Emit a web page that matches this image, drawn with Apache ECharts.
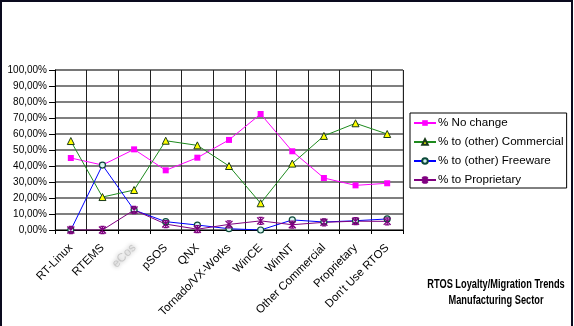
<!DOCTYPE html>
<html>
<head>
<meta charset="utf-8">
<script src="https://cdn.jsdelivr.net/npm/echarts@6/dist/echarts.min.js"></script>
<style>
  html, body { margin: 0; padding: 0; background: #fff; }
  #main { width: 574px; height: 326px; }
</style>
</head>
<body>
<div id="main"></div>
<script>
// categories (the 3rd one is blurred out in the source)
var categories = ['RT-Linux', 'RTEMS', 'eCos', 'pSOS', 'QNX', 'Tornado/VX-Works', 'WinCE', 'WinNT', 'Other Commercial', 'Proprietary', "Don't Use RTOS"];

// values in percent
var noChange    = [45, 40.6, 50.4, 37.3, 45.2, 56.3, 72.5, 49.2, 32.5, 27.9, 29.2];
var commercial  = [55.6, 20.6, 25, 55.8, 52.9, 40, 16.7, 41.5, 58.8, 66.7, 60];
var freeware    = [0, 40.6, 12.5, 5.2, 3.1, 0.8, 0, 6.3, 5, 5.8, 6.9];
var proprietary = [0, 0, 12.5, 3.7, 0.5, 3.5, 5.7, 3.3, 4.8, 5.5, 5.4];

var yTicks = [0, 10, 20, 30, 40, 50, 60, 70, 80, 90, 100];

var myChart = echarts.init(document.getElementById('main'));

function pct(v) {
    return v.toFixed(2).replace('.', ',') + '%';
}

var titleFont = 'bold 12px "Liberation Sans", Arial, sans-serif';

var option = {
    animation: false,
    textStyle: { fontFamily: 'Liberation Sans, Arial, sans-serif' },
    graphic: [
        {
            type: 'rect',
            shape: { x: 1, y: 1, width: 571, height: 340 },
            style: { fill: 'none', stroke: '#0a0a1e', lineWidth: 2 },
            silent: true
        },
        // title, squeezed a little like the original
        {
            type: 'text',
            x: 496, y: 285, scaleX: 0.77,
            style: { text: 'RTOS Loyalty/Migration Trends', font: titleFont, fill: '#000', align: 'center', verticalAlign: 'middle' }
        },
        {
            type: 'text',
            x: 496, y: 301, scaleX: 0.77,
            style: { text: 'Manufacturing Sector', font: titleFont, fill: '#000', align: 'center', verticalAlign: 'middle' }
        }
    ],
    legend: {
        orient: 'vertical',
        left: 410,
        top: 113,
        padding: [4, 3, 2, 3],
        itemGap: 7,
        itemWidth: 22,
        itemHeight: 7,
        borderColor: '#000',
        borderWidth: 1,
        textStyle: { fontSize: 11.6, color: '#000', padding: [0, 0, 0, -3] },
        data: ['% No change', '% to (other) Commercial', '% to (other) Freeware', '% to Proprietary']
    },
    grid: { left: 55, right: 171, top: 70, bottom: 96, show: true, borderColor: '#bbb', borderWidth: 1 },
    xAxis: {
        type: 'category',
        data: categories,
        boundaryGap: true,
        axisLine: { lineStyle: { color: '#000', width: 1 } },
        axisTick: { show: true, length: 4, lineStyle: { color: '#000' } },
        splitLine: { show: true, lineStyle: { color: '#222', width: 1 } },
        axisLabel: {
            rotate: 45,
            fontSize: 11.5,
            color: '#000',
            margin: 16,
            interval: 0,
            formatter: function (v) {
                return v === 'eCos' ? '{blur|' + v + '}' : v;
            },
            rich: {
                blur: { color: '#c8c8c8', fontSize: 12, textShadowColor: '#999', textShadowBlur: 4 }
            }
        }
    },
    yAxis: {
        type: 'value',
        min: yTicks[0],
        max: yTicks[yTicks.length - 1],
        interval: 10,
        axisLine: { show: true, lineStyle: { color: '#000', width: 1 } },
        axisTick: { show: true, length: 6, lineStyle: { color: '#000' } },
        splitLine: { show: true, lineStyle: { color: '#555', width: 1.5 } },
        axisLabel: { fontSize: 10, color: '#000', margin: 8, formatter: pct }
    },
    series: [
        {
            name: '% No change',
            type: 'line',
            data: noChange,
            symbol: 'rect',
            symbolSize: 6,
            lineStyle: { color: '#ff00ff', width: 1 },
            itemStyle: { color: '#ff00ff' }
        },
        {
            name: '% to (other) Commercial',
            type: 'line',
            data: commercial,
            symbol: 'triangle',
            symbolSize: 7,
            lineStyle: { color: '#1e8a1e', width: 1 },
            itemStyle: { color: '#ffff00', borderColor: '#1a3a1a', borderWidth: 1 }
        },
        {
            name: '% to (other) Freeware',
            type: 'line',
            data: freeware,
            symbol: 'circle',
            symbolSize: 6,
            lineStyle: { color: '#0000ff', width: 1 },
            itemStyle: { color: '#d8f4f0', borderColor: '#0c4a3a', borderWidth: 1.2 }
        },
        {
            name: '% to Proprietary',
            type: 'line',
            data: proprietary,
            symbol: 'path://M0,0L10,10M10,0L0,10M5,0L5,10M2,0L8,0M2,10L8,10',
            symbolSize: 7,
            lineStyle: { color: '#800080', width: 1 },
            itemStyle: { color: '#800080', borderColor: '#800080', borderWidth: 1.3 }
        }
    ]
};

myChart.setOption(option);
</script>
</body>
</html>
